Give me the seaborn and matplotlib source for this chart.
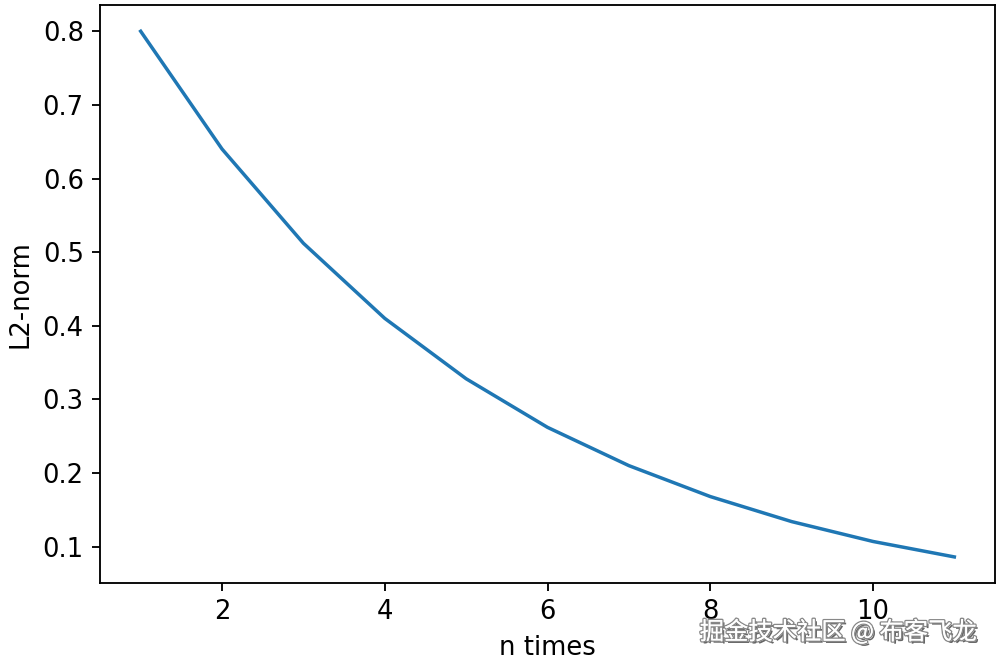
import matplotlib
matplotlib.use('Agg')
import matplotlib.pyplot as plt
import matplotlib.patheffects as pe
import seaborn as sns
import numpy as np

# L2-norm after n times
n_times = [1, 2, 3, 4, 5, 6, 7, 8, 9, 10, 11]
l2_norm = [0.8, 0.64, 0.512, 0.41, 0.328, 0.262, 0.21, 0.168, 0.134, 0.107, 0.086]

plt.rcParams['font.size'] = 11.2

fig, ax = plt.subplots(figsize=(6, 3.99), dpi=166.67)
fig.subplots_adjust(left=0.1, right=0.995, bottom=0.123, top=0.9925)

sns.lineplot(x=n_times, y=l2_norm, color='#1f77b4', ax=ax)
ax.set_xlabel('n times')
ax.set_ylabel('L2-norm')

# watermark
fig.text(0.838, 0.049, '掘金技术社区 @ 布客飞龙', ha='center', va='center', fontsize=10.5,
         color='white', family=['Noto Sans CJK SC', 'DejaVu Sans'],
         path_effects=[pe.withSimplePatchShadow(offset=(1, -1), shadow_rgbFace='#555555', alpha=0.9),
                       pe.withStroke(linewidth=1.2, foreground='#888888'), pe.Normal()])

plt.savefig('out.png', dpi=166.67)
